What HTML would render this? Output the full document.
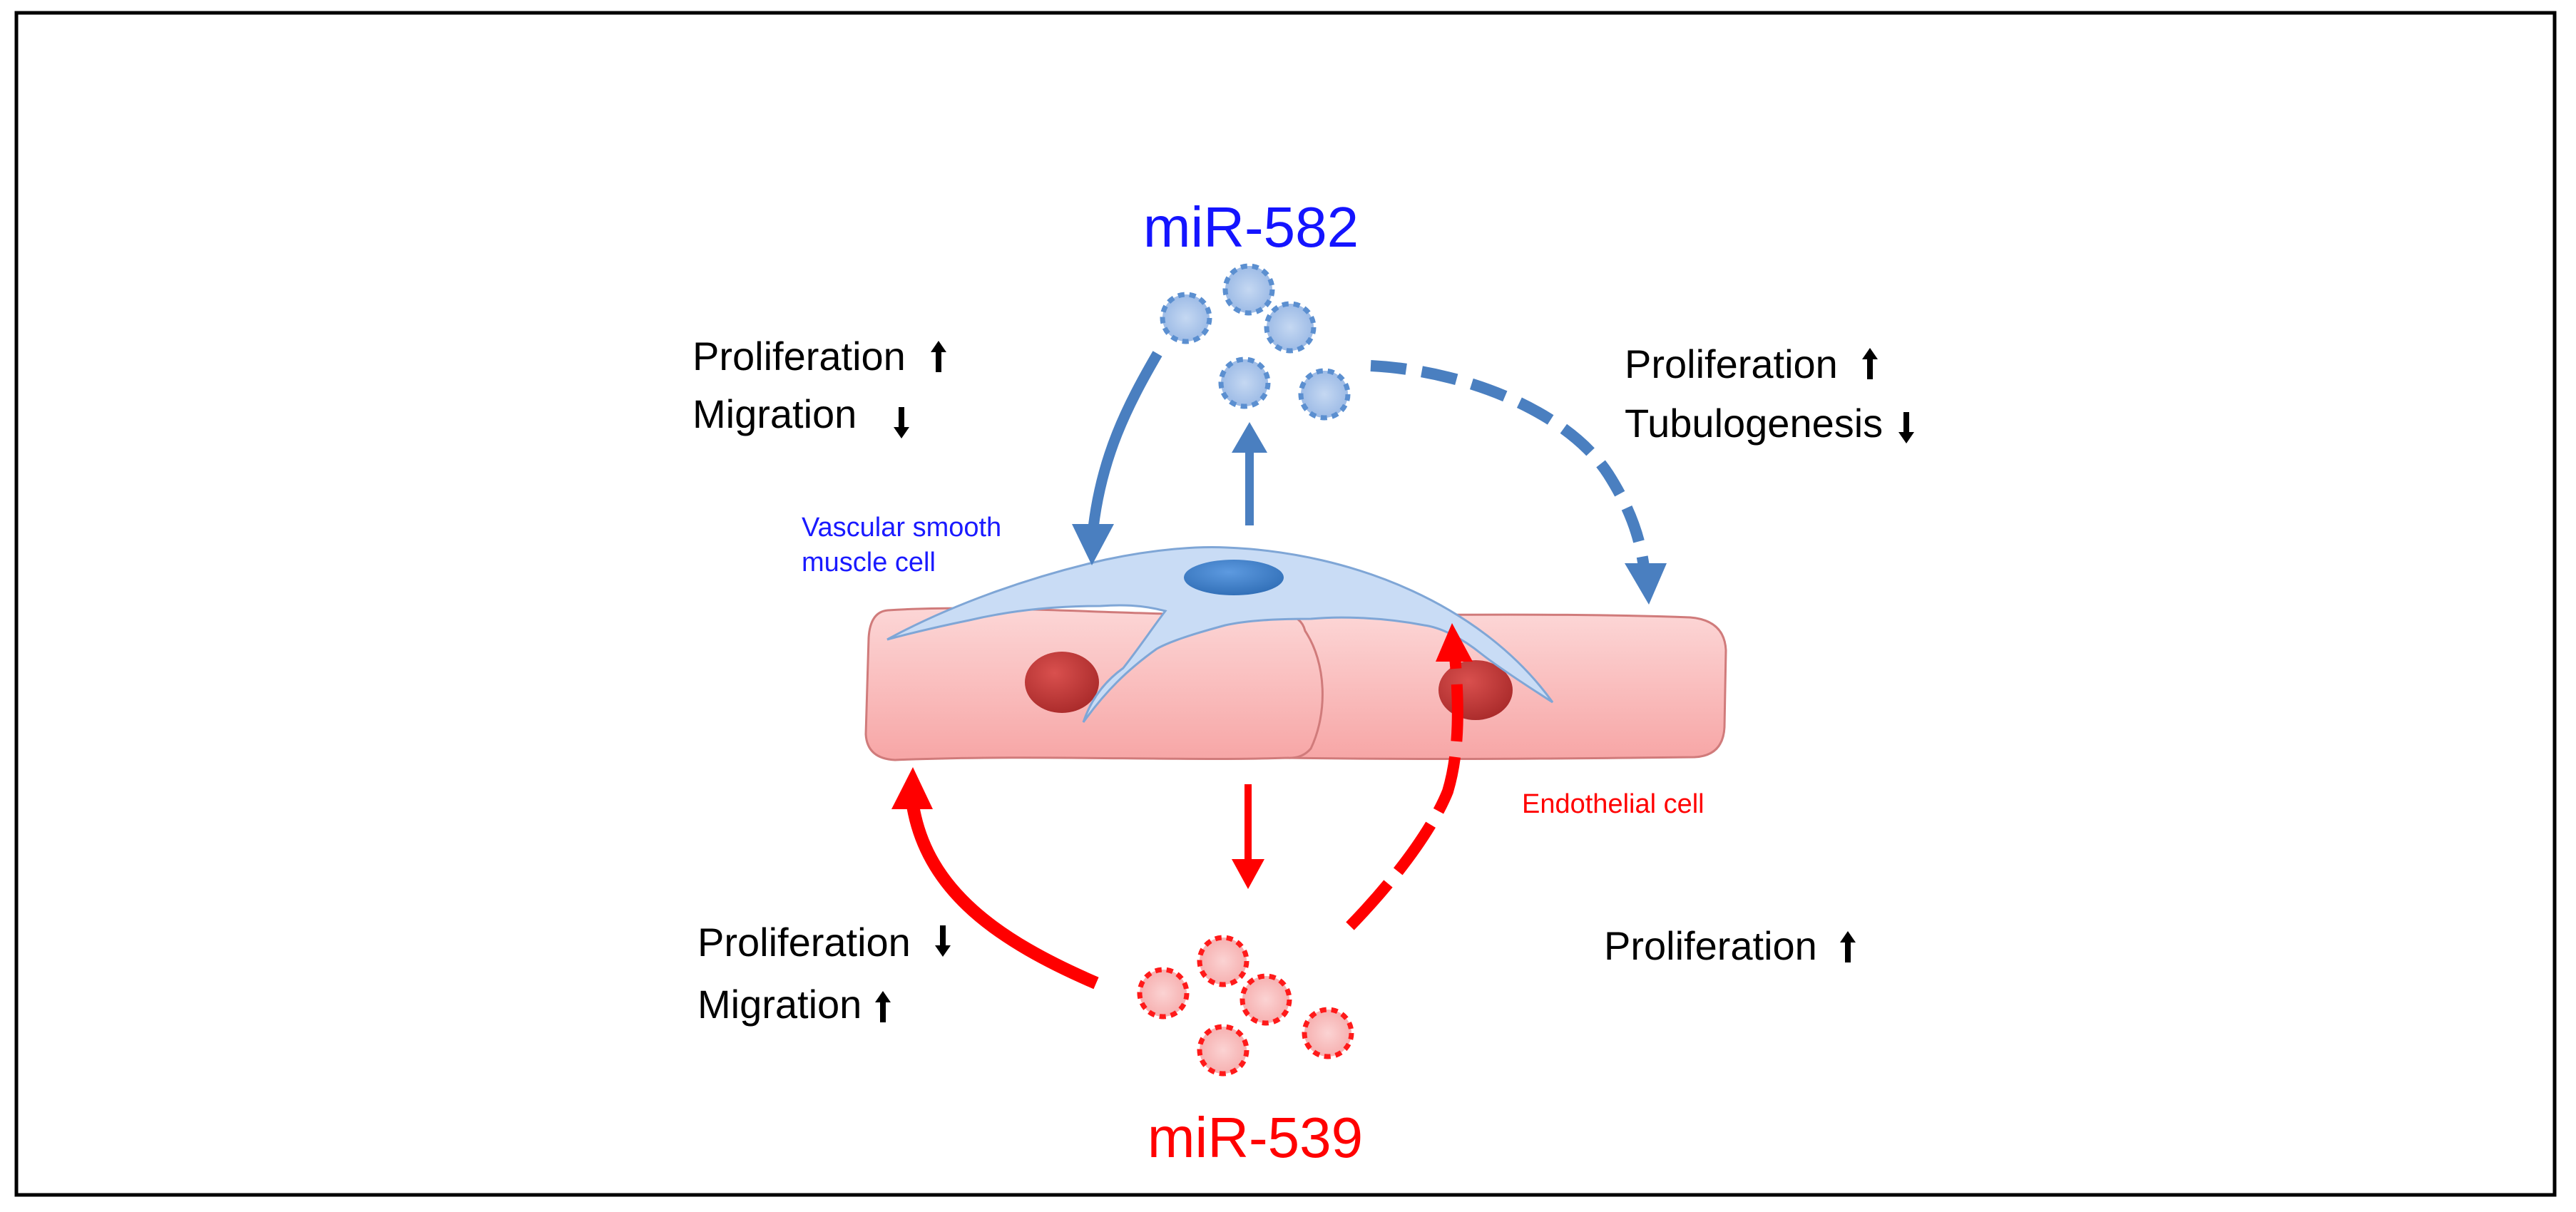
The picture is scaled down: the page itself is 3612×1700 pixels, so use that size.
<!DOCTYPE html>
<html><head><meta charset="utf-8"><style>
html,body{margin:0;padding:0;background:#fff;}
svg{display:block;}
text{font-family:"Liberation Sans",Arial,sans-serif;}
</style></head><body>
<svg width="3612" height="1700" viewBox="0 0 3612 1700" xmlns="http://www.w3.org/2000/svg">
<defs>
<linearGradient id="pink" x1="0" y1="0" x2="0" y2="1">
<stop offset="0" stop-color="#fcd6d6"/><stop offset="1" stop-color="#f7a6a6"/></linearGradient>
<radialGradient id="rn" cx="0.4" cy="0.35" r="0.7">
<stop offset="0" stop-color="#d9504e"/><stop offset="1" stop-color="#a92a2a"/></radialGradient>
<radialGradient id="bn" cx="0.45" cy="0.35" r="0.7">
<stop offset="0" stop-color="#5d9ae0"/><stop offset="1" stop-color="#2f6db5"/></radialGradient>
<radialGradient id="bv"><stop offset="0" stop-color="#c5d8f2"/><stop offset="1" stop-color="#9dbbe6"/></radialGradient>
<radialGradient id="rv"><stop offset="0" stop-color="#fbd3d3"/><stop offset="1" stop-color="#f6b0b0"/></radialGradient>
</defs>
<rect x="23" y="18" width="3559" height="1658" fill="#fff" stroke="#000" stroke-width="5"/>

<!-- endothelial cells -->
<path d="M1800,860 C1950,866 2150,858 2370,866 Q2418,870 2420,912 L2418,1020 Q2416,1060 2376,1062 C2200,1064 2000,1066 1806,1063 Z" fill="url(#pink)" stroke="#d07b7b" stroke-width="3"/>
<path d="M1245,856 C1400,846 1600,866 1800,862 Q1825,864 1830,885 C1860,930 1862,1000 1838,1050 Q1826,1064 1806,1063 C1650,1068 1450,1058 1255,1066 Q1216,1064 1214,1030 L1218,895 Q1220,858 1245,856 Z" fill="url(#pink)" stroke="#d07b7b" stroke-width="3"/>
<ellipse cx="1489" cy="957" rx="52" ry="43" fill="url(#rn)"/>
<ellipse cx="2069" cy="968" rx="52" ry="42" fill="url(#rn)"/>

<!-- smooth muscle cell -->
<path d="M1244,897 C1330,850 1440,810 1550,785 C1620,770 1680,766 1720,768 C1900,775 2080,850 2177,985 C2130,955 2100,935 2077,917 C2050,895 2020,880 1997,877 C1940,866 1880,864 1838,868 C1790,868 1750,870 1718,877 C1670,890 1640,900 1622,910 C1580,940 1550,970 1519,1013 C1530,980 1550,955 1575,937 C1600,905 1620,875 1634,857 C1600,848 1570,848 1543,850 C1470,850 1410,858 1359,870 C1310,880 1270,890 1244,897 Z" fill="#c9dcf5" stroke="#7fa6d6" stroke-width="3"/>
<ellipse cx="1730" cy="810" rx="70" ry="25" fill="url(#bn)"/>

<!-- blue vesicles -->
<g fill="url(#bv)" stroke="#5b8fd0" stroke-width="7" stroke-dasharray="9 7">
<circle cx="1663" cy="446" r="33"/><circle cx="1751" cy="406" r="33"/><circle cx="1809" cy="459" r="33"/><circle cx="1745" cy="537" r="33"/><circle cx="1857" cy="553" r="33"/>
</g>
<!-- red vesicles -->
<g fill="url(#rv)" stroke="#ff1a1a" stroke-width="7" stroke-dasharray="9 7">
<circle cx="1631" cy="1393" r="33"/><circle cx="1715" cy="1348" r="33"/><circle cx="1775" cy="1402" r="33"/><circle cx="1715" cy="1473" r="33"/><circle cx="1862" cy="1449" r="33"/>
</g>

<!-- blue arrows -->
<g fill="#4a7fc0" stroke="none">
<path d="M1623,496 C1580,570 1545,640 1533,740" fill="none" stroke="#4a7fc0" stroke-width="15"/>
<polygon points="1503,735 1562,735 1531,793"/>
<line x1="1752" y1="737" x2="1752" y2="630" stroke="#4a7fc0" stroke-width="12"/>
<polygon points="1727,635 1777,635 1752,592"/>
<path d="M1922,513 C2060,520 2200,580 2255,665 C2290,720 2300,760 2305,795" fill="none" stroke="#4a7fc0" stroke-width="16" stroke-dasharray="50 22"/>
<polygon points="2278,790 2337,790 2312,848"/>
</g>

<!-- red arrows -->
<g fill="#ff0000">
<path d="M1537,1379 C1400,1320 1300,1250 1280,1130" fill="none" stroke="#ff0000" stroke-width="18"/>
<polygon points="1250,1135 1308,1135 1280,1076"/>
<line x1="1750" y1="1100" x2="1750" y2="1210" stroke="#ff0000" stroke-width="10"/>
<polygon points="1727,1205 1773,1205 1750,1247"/>
<path d="M1893,1299 C1960,1230 2010,1160 2030,1110 C2048,1050 2045,980 2040,920" fill="none" stroke="#ff0000" stroke-width="16" stroke-dasharray="80 22"/>
<polygon points="2013,928 2065,928 2036,874"/>
</g>

<!-- titles -->
<text x="1754" y="346" font-size="80" fill="#1414ff" text-anchor="middle">miR-582</text>
<text x="1760" y="1623" font-size="80" fill="#ff0000" text-anchor="middle">miR-539</text>
<text x="1124" y="752" font-size="38" fill="#1a1aff">Vascular smooth</text>
<text x="1124" y="801" font-size="38" fill="#1a1aff">muscle cell</text>
<text x="2134" y="1140" font-size="38" fill="#ff0000">Endothelial cell</text>

<!-- labels -->
<g font-size="56" fill="#000">
<text x="971" y="519">Proliferation</text>
<text x="971" y="600">Migration</text>
<text x="2278" y="530">Proliferation</text>
<text x="2278" y="613">Tubulogenesis</text>
<text x="978" y="1341">Proliferation</text>
<text x="978" y="1428">Migration</text>
<text x="2249" y="1346">Proliferation</text>
</g>
<!-- small arrows -->
<g fill="#000">
<g transform="translate(1316,478)"><polygon points="-11,16 0,0 11,16 4,16 4,44 -4,44 -4,16"/></g>
<g transform="translate(1264,615) scale(1,-1)"><polygon points="-11,16 0,0 11,16 4,16 4,44 -4,44 -4,16"/></g>
<g transform="translate(2622,488)"><polygon points="-11,16 0,0 11,16 4,16 4,44 -4,44 -4,16"/></g>
<g transform="translate(2673,622) scale(1,-1)"><polygon points="-11,16 0,0 11,16 4,16 4,44 -4,44 -4,16"/></g>
<g transform="translate(1322,1342) scale(1,-1)"><polygon points="-11,16 0,0 11,16 4,16 4,44 -4,44 -4,16"/></g>
<g transform="translate(1238,1390)"><polygon points="-11,16 0,0 11,16 4,16 4,44 -4,44 -4,16"/></g>
<g transform="translate(2591,1306)"><polygon points="-11,16 0,0 11,16 4,16 4,44 -4,44 -4,16"/></g>
</g>
</svg>
</body></html>
